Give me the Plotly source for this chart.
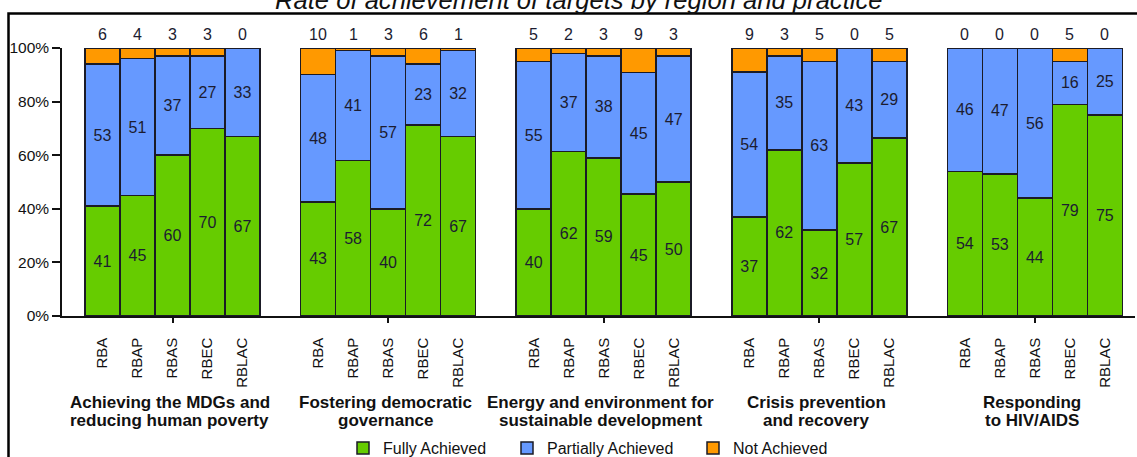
import plotly.graph_objects as go

# ---------------- data ----------------
regions = ["RBA", "RBAP", "RBAS", "RBEC", "RBLAC"]
practice_line1 = ["Achieving the MDGs and", "Fostering democratic", "Energy and environment for",
                  "Crisis prevention", "Responding"]
practice_line2 = ["reducing human poverty", "governance", "sustainable development",
                  "and recovery", "to HIV/AIDS"]
fully = [[41, 45, 60, 70, 67], [43, 58, 40, 72, 67], [40, 62, 59, 45, 50],
         [37, 62, 32, 57, 67], [54, 53, 44, 79, 75]]
partial = [[53, 51, 37, 27, 33], [48, 41, 57, 23, 32], [55, 37, 38, 45, 47],
           [54, 35, 63, 43, 29], [46, 47, 56, 16, 25]]
not_ach = [[6, 4, 3, 3, 0], [10, 1, 3, 6, 1], [5, 2, 3, 9, 3],
           [9, 3, 5, 0, 5], [0, 0, 0, 5, 0]]
yticks = [0, 20, 40, 60, 80, 100]
yticklabels = ["0%", "20%", "40%", "60%", "80%", "100%"]
title = "Rate of achievement of targets by region and practice"

# ---------------- layout helpers ----------------
GROUP_STEP = 6.16
W, H = 1137, 457
ML, MR, MT, MB = 62, 2, 48, 141
PW, PH = W - ML - MR, H - MT - MB

def px_x(p):
    return (p - ML) / PW

def px_y(p):
    return (H - MB - p) / PH

xs, xlabels, f_flat, p_flat, n_flat = [], [], [], [], []
for g in range(len(fully)):
    for i, r in enumerate(regions):
        xs.append(g * GROUP_STEP + i)
        xlabels.append(r)
        f_flat.append(fully[g][i])
        p_flat.append(partial[g][i])
        n_flat.append(not_ach[g][i])
group_centers = [g * GROUP_STEP + 2 for g in range(len(fully))]

FONT = "Liberation Sans, Arial, sans-serif"
OUTLINE = dict(color="#1b1b26", width=1.5)
LBL = dict(family=FONT, size=16, color="#1c1c30")

fig = go.Figure()
fig.add_trace(go.Bar(
    x=xs, y=f_flat, width=1, name="Fully Achieved", legend="legend",
    marker=dict(color="#66CC00", line=OUTLINE),
    text=[str(v) for v in f_flat], textposition="inside", insidetextanchor="middle",
    textangle=0, constraintext="none", insidetextfont=LBL, hoverinfo="skip"))
fig.add_trace(go.Bar(
    x=xs, y=p_flat, width=1, name="Partially Achieved", legend="legend2",
    marker=dict(color="#6699FF", line=OUTLINE),
    text=[str(v) for v in p_flat], textposition="inside", insidetextanchor="middle",
    textangle=0, constraintext="none", insidetextfont=LBL, hoverinfo="skip"))
fig.add_trace(go.Bar(
    x=xs, y=n_flat, width=1, name="Not Achieved", legend="legend3",
    marker=dict(color="#FF9900", line=OUTLINE), hoverinfo="skip"))
# invisible helper so the group tick axis is drawn
fig.add_trace(go.Scatter(x=group_centers, y=[0] * len(group_centers), xaxis="x2",
                         mode="markers", marker=dict(opacity=0), showlegend=False,
                         hoverinfo="skip"))

annotations = []
for x, v in zip(xs, n_flat):
    annotations.append(dict(x=x, y=100, xref="x", yref="y", text=str(v), showarrow=False,
                            yshift=14, yanchor="middle", font=LBL))
for gc, l1, l2 in zip(group_centers, practice_line1, practice_line2):
    annotations.append(dict(x=gc, y=px_y(402), xref="x", yref="paper", text="<b>%s</b>" % l1,
                            showarrow=False, yanchor="middle", xshift=-3,
                            font=dict(family=FONT, size=17, color="#111111")))
    annotations.append(dict(x=gc, y=px_y(420.5), xref="x", yref="paper", text="<b>%s</b>" % l2,
                            showarrow=False, yanchor="middle", xshift=-3,
                            font=dict(family=FONT, size=17, color="#111111")))
annotations.append(dict(x=px_x(579), y=px_y(0.5), xref="paper", yref="paper",
                        text="<i>%s</i>" % title, showarrow=False, yanchor="middle",
                        font=dict(family=FONT, size=25.6, color="#111111")))

xrange_ = [-1.157, 29.5]
legend_common = dict(orientation="h", yanchor="middle", xanchor="left", y=px_y(448),
                     bgcolor="rgba(0,0,0,0)", font=dict(family=FONT, size=16, color="#111111"))

fig.update_layout(
    width=W, height=H,
    margin=dict(l=ML, r=MR, t=MT, b=MB, autoexpand=False),
    barmode="stack", barnorm="percent",
    plot_bgcolor="white", paper_bgcolor="white",
    font=dict(family=FONT, color="#111111"),
    xaxis=dict(range=xrange_, tickmode="array", tickvals=xs, ticktext=xlabels, tickangle=-90,
               ticks="", showline=True, linecolor="#111111", linewidth=1.5, showgrid=False,
               zeroline=False, ticklabelstandoff=14,
               tickfont=dict(family=FONT, size=15, color="#111111")),
    xaxis2=dict(range=xrange_, overlaying="x", anchor="y", side="bottom", tickmode="array",
                tickvals=group_centers, ticks="outside", ticklen=6, tickwidth=1.5,
                tickcolor="#111111", showticklabels=False, showgrid=False, showline=False,
                zeroline=False),
    yaxis=dict(range=[0, 100], tickmode="array", tickvals=yticks, ticktext=yticklabels,
               ticks="outside", ticklen=8, tickwidth=1.5, tickcolor="#111111",
               showline=True, linecolor="#111111", linewidth=1.5, showgrid=False,
               zeroline=False, tickfont=dict(family=FONT, size=15.5, color="#111111")),
    legend=dict(x=px_x(343), **legend_common),
    legend2=dict(x=px_x(507), **legend_common),
    legend3=dict(x=px_x(693), **legend_common),
    annotations=annotations,
    shapes=[dict(type="rect", xref="paper", yref="paper",
                 x0=px_x(8.5), x1=px_x(1142), y0=px_y(462), y1=px_y(13.5),
                 line=dict(color="#000000", width=2.5), fillcolor="rgba(0,0,0,0)",
                 layer="above")],
    showlegend=True,
)

fig.write_html("out.html")
